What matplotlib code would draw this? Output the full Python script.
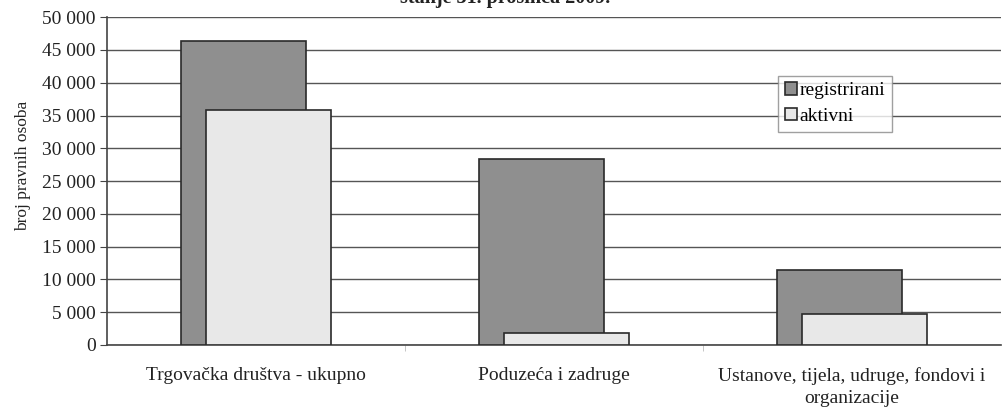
import numpy as np
import matplotlib.pyplot as plt
from matplotlib.ticker import FuncFormatter

plt.rcParams['font.family'] = ['Liberation Serif', 'DejaVu Serif']

# broj pravnih osoba, stanje 31.12.2009.
kategorije = ['Trgovačka društva - ukupno', 'Poduzeća i zadruge',
              'Ustanove, tijela, udruge, fondovi i\norganizacije']
registrirani = [46400, 28300, 11400]
aktivni = [35900, 1900, 4700]

fig = plt.figure(figsize=(10.02, 4.09), dpi=100)
ax = fig.add_axes([0.1068, 0.1565, 0.8922, 0.8015])

x = np.arange(len(kategorije))
w = 0.418
pomak = 0.042
ax.bar(x - pomak, registrirani, w, color='#8f8f8f', edgecolor='#2a2a2a', linewidth=1.2,
       label='registrirani', zorder=3)
ax.bar(x + pomak, aktivni, w, color='#e8e8e8', edgecolor='#2a2a2a', linewidth=1.2,
       label='aktivni', zorder=4)

ax.set_xlim(-0.5, 2.5)
ax.set_ylim(0, 50000)
ax.set_yticks(np.arange(0, 50001, 5000))
ax.yaxis.set_major_formatter(FuncFormatter(lambda v, p: '{:,.0f}'.format(v).replace(',', ' ')))
ax.yaxis.grid(True, color='#555555', linewidth=1.0, zorder=0)
ax.set_axisbelow(True)

ax.set_xticks(x)
ax.set_xticklabels(kategorije, fontsize=14, color='#222222', linespacing=1.35)
ax.tick_params(axis='x', length=0, pad=16)
ax.set_xticks([0.5, 1.5], minor=True)
ax.tick_params(axis='x', which='minor', length=4, color='#bbbbbb')
ax.tick_params(axis='y', length=5, color='#444444', labelsize=14, labelcolor='#222222', pad=3)

for s in ['top', 'right']:
    ax.spines[s].set_visible(False)
ax.spines['left'].set_color('#444444')
ax.spines['bottom'].set_color('#444444')
ax.spines['left'].set_linewidth(1.2)
ax.spines['bottom'].set_linewidth(1.2)

ax.set_ylabel('broj pravnih osoba', fontsize=12.5, color='#222222', labelpad=8, y=0.545)

fig.text(0.504, 1 - 3 / 409, 'stanje 31. prosinca 2009.', ha='center', va='baseline',
         fontsize=14.5, fontweight='bold', color='#222222')

leg = ax.legend(loc='upper left', bbox_to_anchor=(0.751, 0.822), fontsize=14,
                frameon=True, fancybox=False, handlelength=0.6, handleheight=0.6,
                handletextpad=0.15, borderpad=0.35, labelspacing=0.45, borderaxespad=0)
leg.get_frame().set_edgecolor('#888888')
leg.get_frame().set_linewidth(1.0)

fig.savefig('out.png', dpi=100)
